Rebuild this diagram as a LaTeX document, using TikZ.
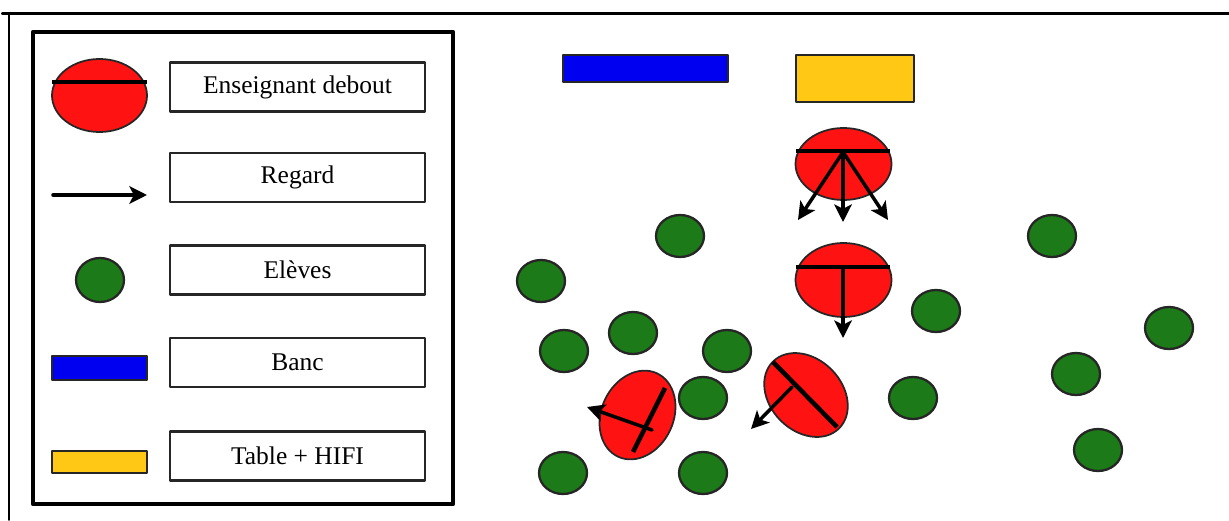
\documentclass[tikz,border=0pt]{standalone}
\usepackage{fontspec}
\setmainfont{Liberation Serif}
\usetikzlibrary{arrows.meta}

\definecolor{rouge}{RGB}{255,18,18}
\definecolor{vert}{RGB}{28,122,24}
\definecolor{bleu}{RGB}{0,0,240}
\definecolor{jaune}{RGB}{255,200,20}

\begin{document}
\begin{tikzpicture}[
    x=0.02cm, y=0.02cm,
    line cap=round,
    line join=round,
    enseignant/.style={draw=black!85, fill=rouge, line width=1pt},
    barre/.style={line width=2.6pt, line cap=butt},
    regard/.style={line width=2pt, -{Stealth[length=10pt, width=10pt, inset=2.5pt]}},
    eleve/.style={draw=black!85, fill=vert, line width=1.3pt},
    legende/.style={draw=black!85, line width=1.3pt, minimum width=5.1cm,
        minimum height=0.98cm, inner sep=0pt, font=\fontsize{14.5}{17}\selectfont}
]
\useasboundingbox (0,0) rectangle (1229,-520);

% Cadre extérieur
\draw[line width=2.2pt] (3,-13.5) -- (1229,-13.5);
\draw[line width=1pt] (9,-13.5) -- (9,-520);

% Légende
\draw[line width=2.6pt] (33,-32) rectangle (453,-504);

\node[legende] (lblEnseignant) at (297.5,-87) {Enseignant debout};
\node[legende] (lblRegard) at (297.5,-177.5) {Regard};
\node[legende] (lblEleves) at (297.5,-270) {Elèves};
\node[legende] (lblBanc) at (297.5,-362.5) {Banc};
\node[legende] (lblTable) at (297.5,-456) {Table + HIFI};

% Symboles de la légende
\draw[enseignant] (99.5,-95.5) ellipse [x radius=47.5, y radius=36.5];
\draw[barre] (52,-82) -- (147,-82);
\draw[regard] (53,-195) -- (147,-195);
\draw[eleve] (100,-280) ellipse [x radius=24, y radius=22];
\draw[fill=bleu, draw=black!85, line width=1pt] (52,-356) rectangle (147,-380);
\draw[fill=jaune, draw=black!85, line width=1.4pt] (52,-451) rectangle (147,-473);

% Banc et table
\draw[fill=bleu, draw=black!85, line width=1pt] (563,-55) rectangle (728,-82);
\draw[fill=jaune, draw=black!85, line width=1.4pt] (796,-55) rectangle (914,-102);

% Elèves
\draw[eleve] (680,-236) ellipse [x radius=24, y radius=21];
\draw[eleve] (541,-281) ellipse [x radius=24, y radius=21];
\draw[eleve] (633,-333) ellipse [x radius=24, y radius=21];
\draw[eleve] (564,-351) ellipse [x radius=24, y radius=21];
\draw[eleve] (727,-351) ellipse [x radius=24, y radius=21];
\draw[eleve] (703,-398) ellipse [x radius=24, y radius=21];
\draw[eleve] (563,-473) ellipse [x radius=24, y radius=21];
\draw[eleve] (703,-473) ellipse [x radius=24, y radius=21];
\draw[eleve] (936,-311) ellipse [x radius=24, y radius=21];
\draw[eleve] (913,-398) ellipse [x radius=24, y radius=21];
\draw[eleve] (1052,-236) ellipse [x radius=24, y radius=21];
\draw[eleve] (1169,-328) ellipse [x radius=24, y radius=21];
\draw[eleve] (1076,-374) ellipse [x radius=24, y radius=21];
\draw[eleve] (1098,-450) ellipse [x radius=24, y radius=21];

% Enseignant près de la table
\draw[enseignant] (843.5,-164) ellipse [x radius=48, y radius=36];
\draw[barre] (796,-151) -- (890,-151);
\draw[regard] (843,-152) -- (798,-220);
\draw[regard] (843,-152) -- (843,-222);
\draw[regard] (843,-152) -- (888,-220);

% Enseignant au centre
\draw[enseignant] (843.5,-280) ellipse [x radius=48, y radius=37];
\draw[barre] (796,-267) -- (890,-267);
\draw[regard] (843,-267) -- (843,-338);

% Enseignant de droite (tourné)
\draw[enseignant, rotate around={-45.4:(806,-395)}] (806,-395) ellipse [x radius=47, y radius=36];
\draw[barre] (773,-362) -- (837,-427);
\draw[regard] (792,-387) -- (751,-429);

% Enseignant de gauche (tourné)
\draw[enseignant, rotate around={-115:(637.5,-415)}] (637.5,-415) ellipse [x radius=46, y radius=36];
\draw[barre] (665,-388) -- (633,-452);
\draw[regard] (652,-430) -- (587,-407);

\end{tikzpicture}
\end{document}
